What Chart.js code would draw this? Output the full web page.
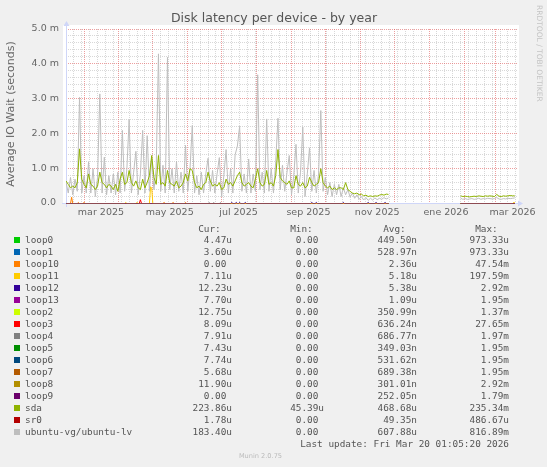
<!DOCTYPE html>
<html lang="es">
<head>
<meta charset="utf-8">
<title>Disk latency per device - by year</title>
<script src="https://cdn.jsdelivr.net/npm/chart.js@4.4.1/dist/chart.umd.min.js"></script>
<style>
  html, body { margin: 0; padding: 0; background: #f0f0f0; }
  #contenedor { position: relative; width: 547px; height: 467px; overflow: hidden; }
  #grafico { position: absolute; left: 0; top: 0; }
  .txt { position: absolute; font-family: 'DejaVu Sans Mono', monospace; font-size: 9.4px; line-height: 12px; color: #555; white-space: pre; }
  .caja { position: absolute; width: 6px; height: 6px; }
  .pie { position: absolute; font-family: 'DejaVu Sans', sans-serif; font-size: 6.6px; line-height: 10px; color: #bbb; white-space: pre; }
</style>
</head>
<body>
<div id="contenedor">
  <canvas id="grafico" width="547" height="225"></canvas>
  <div id="leyenda"></div>
</div>
<script>
// Gráfico anual de munin: 400 días, el día 0 es el 13 feb 2025
const DIAS_TOTAL = 400;

// Eje X: inicio de cada mes (línea roja) y posición de las etiquetas
const diasMes = [16, 47, 77, 108, 138, 169, 200, 230, 261, 291, 322, 353, 381];
const diasEtiquetas = [31, 92, 153, 215, 276, 337, 396];
const etiquetasX = ['mar 2025', 'may 2025', 'jul 2025', 'sep 2025', 'nov 2025', 'ene 2026', 'mar 2026'];

// Eje Y (milisegundos)
const marcasY = [0, 1, 2, 3, 4, 5];
const etiquetasY = ['0.0 ', '1.0 m', '2.0 m', '3.0 m', '4.0 m', '5.0 m'];

// Tramo 1: un valor cada 2 días desde el día 0 (ms)
const ubuntuLv1 = [
  0.62, 0.30, 0.75, 0.25, 0.70, 0.35, 3.05, 0.30, 0.80, 0.30,
  1.19, 0.30, 1.00, 0.20, 0.75, 3.15, 0.30, 1.33, 0.25, 0.80,
  0.30, 0.85, 0.25, 0.90, 0.30, 2.10, 0.35, 1.00, 2.41, 0.30,
  0.90, 1.50, 0.25, 0.85, 2.10, 0.30, 1.95, 0.35, 1.30, 0.40,
  1.00, 4.30, 0.35, 1.10, 0.30, 4.20, 0.40, 1.00, 0.30, 1.20,
  0.35, 0.90, 0.30, 1.67, 0.35, 1.00, 2.24, 0.30, 0.80, 0.25,
  0.90, 0.30, 0.85, 1.30, 0.35, 0.95, 0.30, 0.85, 1.32, 0.20,
  0.80, 1.55, 0.30, 1.00, 0.30, 1.40, 1.65, 2.22, 0.35, 0.85,
  0.30, 1.28, 0.30, 0.85, 0.35, 3.70, 0.40, 0.90, 0.30, 2.43,
  0.35, 1.00, 0.30, 1.20, 2.45, 0.40, 1.10, 0.35, 0.90, 1.38,
  0.25, 0.80, 1.70, 0.30, 0.90, 2.20, 0.20, 0.85, 1.60, 0.35,
  0.95, 0.30, 0.85, 2.67, 0.35, 0.75, 0.25, 0.60, 0.20, 0.55,
  0.25, 0.55, 0.20, 0.45, 0.25, 0.40, 0.18, 0.30, 0.15, 0.25,
  0.12, 0.20, 0.10, 0.17, 0.09, 0.15, 0.10, 0.16, 0.11, 0.15,
  0.12, 0.17, 0.13, 0.16
];
const sda1 = [
  0.65, 0.55, 0.45, 0.50, 0.45, 0.60, 1.57, 0.70, 0.55, 0.45,
  0.85, 0.55, 0.50, 0.40, 0.50, 0.90, 0.60, 0.55, 0.45, 0.55,
  0.50, 0.40, 0.55, 0.35, 0.70, 0.90, 0.55, 0.60, 0.95, 0.60,
  0.50, 0.65, 0.45, 0.40, 0.70, 0.45, 0.60, 0.80, 1.38, 0.75,
  0.55, 1.38, 0.55, 0.60, 0.50, 0.95, 0.60, 0.55, 0.50, 0.65,
  0.45, 0.50, 0.60, 0.85, 0.65, 1.00, 0.95, 0.60, 0.45, 0.50,
  0.40, 0.55, 0.60, 0.90, 0.65, 0.50, 0.55, 0.50, 0.60, 0.40,
  0.45, 0.70, 0.55, 0.60, 0.50, 0.65, 0.80, 0.90, 0.60, 0.50,
  0.55, 0.60, 0.50, 0.45, 0.70, 1.00, 0.60, 0.50, 0.55, 0.95,
  0.55, 0.60, 0.50, 0.80, 1.55, 0.75, 0.65, 0.60, 0.55, 0.65,
  0.45, 0.45, 0.80, 0.55, 0.50, 0.60, 0.45, 0.50, 0.75, 0.60,
  0.50, 0.55, 0.60, 1.00, 0.60, 0.50, 0.45, 0.50, 0.40, 0.45,
  0.40, 0.45, 0.45, 0.40, 0.60, 0.40, 0.35, 0.30, 0.28, 0.30,
  0.25, 0.27, 0.22, 0.24, 0.20, 0.22, 0.20, 0.22, 0.21, 0.24,
  0.26, 0.24, 0.27, 0.26
];
// Tramo 2: un valor cada 2 días desde el día 350 (ms)
const ubuntuLv2 = [
  0.15, 0.12, 0.14, 0.12, 0.13, 0.14, 0.12, 0.13, 0.15, 0.12,
  0.14, 0.13, 0.15, 0.14, 0.13, 0.14, 0.17, 0.13, 0.12, 0.14,
  0.13, 0.15, 0.14, 0.15, 0.16
];
const sda2 = [
  0.22, 0.20, 0.21, 0.20, 0.19, 0.20, 0.21, 0.20, 0.22, 0.21,
  0.20, 0.22, 0.21, 0.22, 0.21, 0.20, 0.26, 0.21, 0.20, 0.22,
  0.21, 0.22, 0.23, 0.22, 0.22
];

// Los loop casi siempre están en 0, solo algunos picos (día, ms)
const diasCero = [0, 286, 288, 350, 398];
const valoresCero = [0, 0, null, 0, 0];
const diasLoop10 = [0, 4, 5, 6, 10, 11, 12, 15, 16, 17, 86, 87, 88, 94, 95, 96, 105, 106, 107, 286, 288, 350, 398];
const valLoop10 = [0, 0, 0.18, 0, 0, 0.03, 0, 0, 0.03, 0, 0, 0.03, 0, 0, 0.03, 0, 0, 0.03, 0, 0, null, 0, 0];
const diasLoop11 = [0, 52, 53, 54, 62, 63, 64, 74, 75, 76, 77, 286, 288, 350, 396, 397, 398];
const valLoop11 = [0, 0, 0.03, 0, 0, 0.03, 0, 0, 0.48, 0.45, 0, 0, null, 0, 0, 0.03, 0.03];
const diasLoop3 = [0, 65, 66, 67, 286, 288, 350, 398];
const valLoop3 = [0, 0, 0.11, 0, 0, null, 0, 0];
const diasLoop12 = [0, 146, 147, 148, 150, 151, 152, 153, 154, 155, 158, 159, 160, 217, 218, 219, 221, 222, 223,
  245, 246, 247, 267, 268, 269, 274, 275, 276, 282, 283, 284, 286, 288, 350, 398];
const valLoop12 = [0, 0, 0.03, 0, 0, 0.03, 0, 0, 0.03, 0, 0, 0.03, 0, 0, 0.03, 0, 0, 0.03, 0,
  0, 0.03, 0, 0, 0.03, 0, 0, 0.03, 0, 0, 0.03, 0, 0, null, 0, 0];
const diasLoop4 = [0, 126, 127, 128, 130, 131, 132, 136, 137, 138, 286, 288, 350, 398];
const valLoop4 = [0, 0, 0.02, 0, 0, 0.02, 0, 0, 0.02, 0, 0, null, 0, 0];

// Leyenda
const nombres = ['loop0', 'loop1', 'loop10', 'loop11', 'loop12', 'loop13', 'loop2', 'loop3', 'loop4',
  'loop5', 'loop6', 'loop7', 'loop8', 'loop9', 'sda', 'sr0', 'ubuntu-vg/ubuntu-lv'];
const colores = ['#00cc00', '#0066b3', '#ff8000', '#ffcc00', '#330099', '#990099', '#ccff00', '#ff0000', '#808080',
  '#008f00', '#00487d', '#b35a00', '#b38f00', '#6b006b', '#8fb300', '#b30000', '#bebebe'];
const valCur = ['4.47u', '3.60u', '0.00 ', '7.11u', '12.23u', '7.70u', '12.75u', '8.09u', '7.91u',
  '7.43u', '7.74u', '5.68u', '11.90u', '0.00 ', '223.86u', '1.78u', '183.40u'];
const valMin = ['0.00 ', '0.00 ', '0.00 ', '0.00 ', '0.00 ', '0.00 ', '0.00 ', '0.00 ', '0.00 ',
  '0.00 ', '0.00 ', '0.00 ', '0.00 ', '0.00 ', '45.39u', '0.00 ', '0.00 '];
const valAvg = ['449.50n', '528.97n', '2.36u', '5.18u', '5.38u', '1.09u', '350.99n', '636.24n', '686.77n',
  '349.03n', '531.62n', '689.38n', '301.01n', '252.05n', '468.68u', '49.35n', '607.88u'];
const valMax = ['973.33u', '973.33u', '47.54m', '197.59m', '2.92m', '1.95m', '1.37m', '27.65m', '1.97m',
  '1.95m', '1.95m', '1.95m', '2.92m', '1.79m', '235.34m', '486.67u', '816.89m'];

// --- construir puntos ---
function puntos(dias, valores) {
    return dias.map((d, i) => ({ x: d, y: valores[i] }));
}
function tramos(v1, v2) {
    const p = v1.map((v, i) => ({ x: i * 2, y: v }));
    p.push({ x: 288, y: null });
    v2.forEach((v, i) => p.push({ x: 350 + i * 2, y: v }));
    return p;
}

// ticks del eje X: semanas (gris), meses (rojo) y etiquetas
const ticksX = new Set();
for (let d = 0; d < DIAS_TOTAL; d += 7) ticksX.add(d);
diasMes.forEach(d => ticksX.add(d));
diasEtiquetas.forEach(d => ticksX.add(d));
const ticksXOrden = [...ticksX].sort((a, b) => a - b);

const ticksYMenores = [];
for (let i = 0; i <= 25; i++) ticksYMenores.push(i / 5);

const ROJO = 'rgba(222, 79, 79, 0.55)';
const GRIS = 'rgba(143, 143, 143, 0.35)';
const EJE = '#cfd6f8';

function dataset(idx, data, orden) {
    return {
        label: nombres[idx],
        data: data,
        borderColor: colores[idx],
        backgroundColor: colores[idx],
        borderWidth: 1,
        pointRadius: 0,
        tension: 0,
        spanGaps: false,
        order: orden
    };
}

// order más bajo = se dibuja encima
const datasets = [
    dataset(14, tramos(sda1, sda2), 0),
    dataset(16, tramos(ubuntuLv1, ubuntuLv2), 1),
    dataset(4, puntos(diasLoop12, valLoop12), 2),
    dataset(3, puntos(diasLoop11, valLoop11), 3),
    dataset(2, puntos(diasLoop10, valLoop10), 3),
    dataset(7, puntos(diasLoop3, valLoop3), 3),
    dataset(8, puntos(diasLoop4, valLoop4), 3)
];
// el resto de loops y sr0 en cero
[0, 1, 5, 6, 9, 10, 11, 12, 13, 15].forEach(i => datasets.push(dataset(i, puntos(diasCero, valoresCero), 4)));

// Fondo blanco, ejes con flecha y textos
const decoracion = {
    id: 'decoracion',
    beforeDraw(chart) {
        const { ctx, chartArea: a } = chart;
        ctx.save();
        ctx.fillStyle = '#ffffff';
        ctx.fillRect(a.left - 3, a.top - 4, a.right - a.left + 5, a.bottom - a.top + 5);
        ctx.restore();
    },
    beforeDatasetsDraw(chart) {
        const { ctx, chartArea: a } = chart;
        ctx.save();
        ctx.strokeStyle = EJE;
        ctx.fillStyle = EJE;
        ctx.lineWidth = 1;
        ctx.beginPath();
        ctx.moveTo(a.left + 0.5, a.bottom + 4);
        ctx.lineTo(a.left + 0.5, a.top - 4);
        ctx.moveTo(a.left - 4, a.bottom + 0.5);
        ctx.lineTo(a.right + 2, a.bottom + 0.5);
        ctx.stroke();
        ctx.beginPath();
        ctx.moveTo(a.left - 2.5, a.top - 3);
        ctx.lineTo(a.left + 3.5, a.top - 3);
        ctx.lineTo(a.left + 0.5, a.top - 8);
        ctx.closePath();
        ctx.fill();
        ctx.beginPath();
        ctx.moveTo(a.right + 1, a.bottom - 2.5);
        ctx.lineTo(a.right + 1, a.bottom + 3.5);
        ctx.lineTo(a.right + 6, a.bottom + 0.5);
        ctx.closePath();
        ctx.fill();
        ctx.restore();
        // medio píxel abajo para que las líneas en 0 queden nítidas
        ctx.save();
        ctx.translate(0, 0.5);
    },
    afterDatasetsDraw(chart) {
        chart.ctx.restore();
    },
    afterDraw(chart) {
        const { ctx } = chart;
        ctx.save();
        ctx.fillStyle = '#555';
        ctx.textAlign = 'center';
        ctx.textBaseline = 'middle';
        ctx.font = '12.5px "DejaVu Sans"';
        ctx.fillText('Disk latency per device - by year', 274, 18.5);

        ctx.fillStyle = '#666';
        ctx.font = '11px "DejaVu Sans"';
        ctx.translate(11, 114);
        ctx.rotate(-Math.PI / 2);
        ctx.fillText('Average IO Wait (seconds)', 0, 0);
        ctx.restore();

        ctx.save();
        ctx.fillStyle = '#c4c4c4';
        ctx.font = '7.5px "DejaVu Sans"';
        ctx.textAlign = 'left';
        ctx.textBaseline = 'middle';
        ctx.translate(538.5, 5);
        ctx.rotate(Math.PI / 2);
        ctx.fillText('RRDTOOL / TOBI OETIKER', 0, 0);
        ctx.restore();
    }
};

Chart.defaults.font.family = '"DejaVu Sans", sans-serif';
Chart.defaults.color = '#666';

const grafico = new Chart(document.getElementById('grafico').getContext('2d'), {
    type: 'line',
    data: { datasets: datasets },
    options: {
        responsive: false,
        animation: false,
        events: [],
        layout: { padding: { left: 0, right: 30, top: 29, bottom: 0 } },
        plugins: { legend: { display: false }, tooltip: { enabled: false } },
        scales: {
            x: {
                type: 'linear',
                min: 0,
                max: DIAS_TOTAL,
                afterBuildTicks: s => { s.ticks = ticksXOrden.map(v => ({ value: v })); },
                afterFit: s => { s.height = 22; },
                ticks: {
                    autoSkip: false,
                    maxRotation: 0,
                    minRotation: 0,
                    padding: 4,
                    font: { size: 9.5 },
                    color: '#666',
                    callback: v => {
                        const k = diasEtiquetas.indexOf(v);
                        return k >= 0 ? etiquetasX[k] : '';
                    }
                },
                grid: {
                    drawTicks: false,
                    lineWidth: 1,
                    color: c => {
                        const v = c.tick.value;
                        if (v === 0 || diasEtiquetas.includes(v)) return 'rgba(0,0,0,0)';
                        return diasMes.includes(v) ? ROJO : GRIS;
                    }
                },
                border: { display: false, dash: [1, 1] }
            },
            y: {
                type: 'linear',
                min: 0,
                max: 5,
                afterBuildTicks: s => { s.ticks = ticksYMenores.map(v => ({ value: v })); },
                afterFit: s => { s.width = 66; },
                ticks: {
                    autoSkip: false,
                    padding: 7,
                    font: { size: 9.5 },
                    color: '#666',
                    callback: v => {
                        const k = marcasY.findIndex(m => Math.abs(m - v) < 1e-6);
                        return k >= 0 ? etiquetasY[k] : '';
                    }
                },
                grid: {
                    drawTicks: false,
                    lineWidth: 1,
                    color: c => {
                        const v = c.tick.value;
                        if (v === 0) return 'rgba(0,0,0,0)';
                        return Math.abs(v - Math.round(v)) < 1e-6 ? ROJO : GRIS;
                    }
                },
                border: { display: false, dash: [1, 1] }
            }
        }
    },
    plugins: [decoracion]
});

// --- leyenda de munin (texto HTML) ---
const leyenda = document.getElementById('leyenda');
function texto(cadena, x, yCentro, derecha) {
    const el = document.createElement('div');
    el.className = 'txt';
    el.textContent = cadena;
    el.style.top = (yCentro - 6) + 'px';
    if (derecha) el.style.right = (547 - x) + 'px';
    else el.style.left = x + 'px';
    leyenda.appendChild(el);
}
const columnas = [232, 324, 417, 509];
const cabeceras = ['Cur:  ', 'Min:  ', 'Avg:  ', 'Max:  '];
cabeceras.forEach((c, i) => texto(c, columnas[i], 228.5, true));
nombres.forEach((n, i) => {
    const y = 240 + i * 12;
    const caja = document.createElement('div');
    caja.className = 'caja';
    caja.style.left = '14px';
    caja.style.top = (y - 3) + 'px';
    caja.style.background = colores[i];
    leyenda.appendChild(caja);
    texto(n, 25, y, false);
    texto(valCur[i], columnas[0], y, true);
    texto(valMin[i], columnas[1], y, true);
    texto(valAvg[i], columnas[2], y, true);
    texto(valMax[i], columnas[3], y, true);
});
texto('Last update: Fri Mar 20 01:05:20 2026', 509, 444, true);
const pie = document.createElement('div');
pie.className = 'pie';
pie.textContent = 'Munin 2.0.75';
pie.style.left = '0px';
pie.style.width = '521px';
pie.style.textAlign = 'center';
pie.style.top = '451px';
leyenda.appendChild(pie);
</script>
</body>
</html>
